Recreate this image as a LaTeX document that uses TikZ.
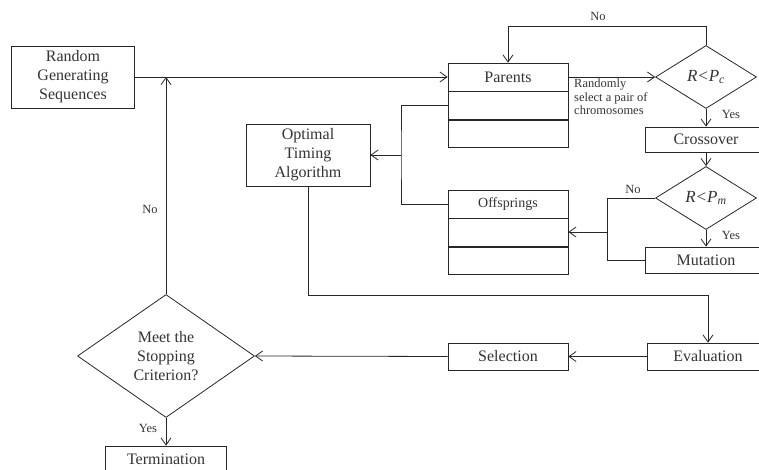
\documentclass[tikz,border=0pt]{standalone}
\usepackage{fontspec}
\setmainfont{Liberation Serif}
\usetikzlibrary{arrows.meta, positioning, shapes.geometric}
\tikzset{
  % box and cell styles
  blk/.style={draw, line width=0.8pt, align=center, inner sep=1pt,
    text=black!80, font=\fontsize{16}{19}\selectfont},
  cell/.style={draw, line width=0.8pt, minimum width=120pt, minimum height=28pt,
    inner sep=0pt, text=black!80},
  dec/.style={draw, diamond, line width=0.8pt, inner sep=0pt, align=center,
    text=black!80, font=\fontsize{16}{19}\selectfont},
  % arrow style
  garr/.style={-{Straight Barb[length=7pt,width=10pt]}, line width=0.8pt},
  lne/.style={line width=0.8pt},
  lbl/.style={text=black!80, font=\fontsize{12.5}{13.5}\selectfont, inner sep=0pt},
}

\begin{document}
\begin{tikzpicture}[x=1pt, y=-1pt, draw=black!85]
  \useasboundingbox (0,0) rectangle (759,470);

  % left column
  \node[blk, minimum width=123pt, minimum height=62pt] (rgs) at (73,77)
    {Random\\Generating\\Sequences};
  \node[blk, minimum width=124pt, minimum height=62pt] (ota) at (308,155)
    {Optimal\\Timing\\Algorithm};
  \node[dec, minimum width=177pt, minimum height=123pt] (meet) at (166,356)
    {Meet the\\Stopping\\Criterion?};
  \node[blk, minimum width=121pt, minimum height=27pt] (term) at (166,459.5)
    {Termination};

  % parents and offsprings tables
  \node[cell, font=\fontsize{16}{19}\selectfont] (par1) at (508,77) {Parents};
  \node[cell, below=0pt of par1] (par2) {};
  \node[cell, below=0pt of par2, minimum height=27pt] (par3) {};
  \node[cell, font=\fontsize{14}{17}\selectfont] (off1) at (508,204) {Offsprings};
  \node[cell, below=0pt of off1] (off2) {};
  \node[cell, below=0pt of off2, minimum height=27pt] (off3) {};
  \node[blk, minimum width=120pt, minimum height=27pt] (sel) at (508,356.5)
    {Selection};

  % right column
  \node[dec, minimum width=101pt, minimum height=63pt, font=\fontsize{17}{19}\selectfont] (pc) at (706,77)
    {\textit{R<P\textsubscript{c}}};
  \node[blk, minimum width=122pt, minimum height=25pt] (cross) at (706,139.5)
    {Crossover};
  \node[dec, minimum width=101pt, minimum height=63pt, font=\fontsize{17}{19}\selectfont] (pm) at (706,198)
    {\textit{R<P\textsubscript{m}}};
  \node[blk, minimum width=122pt, minimum height=26pt] (mut) at (706,260)
    {Mutation};
  \node[blk, minimum width=122pt, minimum height=27pt] (eval) at (708,356.5)
    {Evaluation};

  % bend points
  \coordinate (topy) at (0,26);
  \coordinate (jn) at (401,155);
  \coordinate (jm) at (607,232);
  \coordinate (boty) at (0,295);

  % labels
  \node[lbl, anchor=north west, align=left] (sel-txt) at (574,79)
    {Randomly\\select a pair of\\chromosomes};
  \node[lbl] (no-top) at (598,16) {No};
  \node[lbl] (yes-pc) at (731,114) {Yes};
  \node[lbl] (no-pm) at (633,189) {No};
  \node[lbl] (yes-pm) at (731,235) {Yes};
  \node[lbl] (no-left) at (150,209) {No};
  \node[lbl] (yes-meet) at (148,428) {Yes};

  % connectors
  \draw[garr] (rgs.east) -- (par1.west);
  \draw[garr] (meet.north) -- (meet.north |- rgs.east);
  \draw[garr] (par1.east) -- (pc.west);
  \draw[garr] (pc.north) |- (topy -| par1.north) -- (par1.north);
  \draw[garr] (pc.south) -- (cross.north);
  \draw[garr] (cross.south) -- (pm.north);
  \draw[garr] (pm.south) -- (mut.north);
  \draw[lne] (pm.west) -| (jm) |- (mut.west);
  \draw[garr] (jm) -- (jm -| off2.east);
  \draw[lne] (par2.west) -| (jn) |- (off1.west);
  \draw[garr] (jn) -- (jn -| ota.east);
  \draw[garr] (ota.south) |- (boty -| eval.north) -- (eval.north);
  \draw[garr] (eval.west) -- (sel.east);
  \draw[garr] (sel.west) -- (meet.east);
  \draw[garr] (meet.south) -- (term.north);
\end{tikzpicture}
\end{document}
